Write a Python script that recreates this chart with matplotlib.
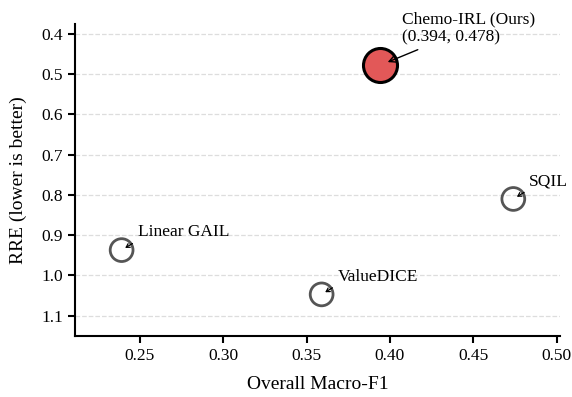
import matplotlib
matplotlib.use("Agg")
import matplotlib.pyplot as plt

plt.rcParams['font.family'] = ['Liberation Serif', 'DejaVu Serif']

methods = ["Chemo-IRL (Ours)", "SQIL", "Linear GAIL", "ValueDICE"]
macro_f1 = [0.394, 0.474, 0.239, 0.359]
rre = [0.478, 0.81, 0.937, 1.047]
labels = ["Chemo-IRL (Ours)\n(0.394, 0.478)", "SQIL", "Linear GAIL", "ValueDICE"]

fig = plt.figure(figsize=(5.72, 3.97), dpi=100)
ax = fig.add_axes([0.131, 0.154, 0.848, 0.786])

for i, m in enumerate(methods):
    if i == 0:
        ax.scatter(macro_f1[i], rre[i], s=600, color="#E25858", edgecolor="black",
                   linewidth=2.2, zorder=3)
        off = (16, 14)
        arrow = dict(arrowstyle="->", color="black", lw=1.0, shrinkB=6)
    else:
        ax.scatter(macro_f1[i], rre[i], s=270, facecolor="none", edgecolor="#555555",
                   linewidth=2.0, zorder=3)
        off = (11.5, 7)
        arrow = dict(arrowstyle="->,head_length=0.2,head_width=0.12", color="black",
                     lw=0.9, shrinkB=3, relpos=(0, 0))
    ax.annotate(labels[i], xy=(macro_f1[i], rre[i]), xytext=off, textcoords="offset points",
                ha="left", va="bottom", fontsize=12.5, arrowprops=arrow)

ax.set_xlim(0.211, 0.502)
ax.set_ylim(1.15, 0.375)
ax.set_xticks([0.25, 0.30, 0.35, 0.40, 0.45, 0.50])
ax.set_yticks([0.4, 0.5, 0.6, 0.7, 0.8, 0.9, 1.0, 1.1])
ax.set_xlabel("Overall Macro-F1", fontsize=14, labelpad=9)
ax.set_ylabel("RRE (lower is better)", fontsize=14, labelpad=10)
ax.tick_params(labelsize=12.5, width=1.5, length=5)
ax.grid(axis="y", linestyle="--", color="#dddddd", linewidth=0.9)
ax.set_axisbelow(True)
for s in ["top", "right"]:
    ax.spines[s].set_visible(False)
for s in ["left", "bottom"]:
    ax.spines[s].set_linewidth(1.5)

fig.savefig("out.png", dpi=100)
